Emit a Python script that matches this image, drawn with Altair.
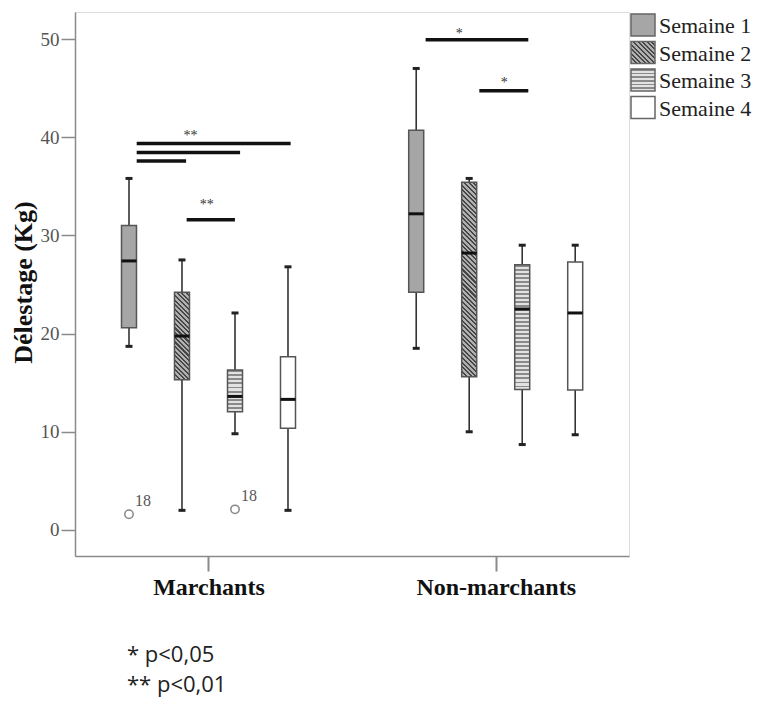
import altair as alt
import pandas as pd
import numpy as np

# ---------------- data ----------------
groups = ["Marchants", "Non-marchants"]
weeks = ["Semaine 1", "Semaine 2", "Semaine 3", "Semaine 4"]

whisker_low = [[18.7, 2.0, 9.8, 2.0], [18.5, 10.0, 8.7, 9.7]]
q1_vals = [[20.6, 15.3, 12.05, 10.35], [24.2, 15.6, 14.3, 14.25]]
median_vals = [[27.4, 19.75, 13.6, 13.3], [32.2, 28.2, 22.5, 22.1]]
q3_vals = [[31.0, 24.2, 16.3, 17.65], [40.7, 35.4, 27.0, 27.3]]
whisker_high = [[35.8, 27.5, 22.1, 26.8], [47.0, 35.8, 29.0, 29.0]]

outlier_group = ["Marchants", "Marchants"]
outlier_week = ["Semaine 1", "Semaine 3"]
outlier_value = [1.6, 2.1]
outlier_label = ["18", "18"]

# significance bars (x in category units: Marchants = 1, Non-marchants = 2)
sig_x1 = [0.750, 0.750, 0.750, 0.924, 1.756, 1.943]
sig_x2 = [1.286, 1.110, 0.922, 1.092, 2.1135, 2.1135]
sig_y = [39.36, 38.44, 37.57, 31.59, 49.92, 44.73]
star_text = ["**", "**", "*", "*"]
star_x = [0.937, 0.994, 1.873, 2.030]
star_y = [40.1, 33.1, 50.5, 45.5]

footnotes = ["* p<0,05", "** p<0,01"]

y_ticks = [0, 10, 20, 30, 40, 50]

# ---------------- layout / style ----------------
W, H = 554, 544
Y_DOMAIN = [-2.65, 52.75]
X_DOMAIN = [0.5352, 2.4641]
PX_PER_X = W / (X_DOMAIN[1] - X_DOMAIN[0])
PX_PER_Y = H / (Y_DOMAIN[1] - Y_DOMAIN[0])
week_offset = [-0.2768, -0.0923, 0.0923, 0.2768]
box_w = 15.0
half_box = box_w / 2 / PX_PER_X
half_cap = 3.5 / PX_PER_X

S1_FILL = "#a6a6a6"
S2_BG, S2_FG = "#b0b0b0", "#474747"
S3_BG, S3_FG = "#e2e2e2", "#8a8a8a"
S4_FILL = "#ffffff"
BOX_STROKE = "#555555"
SERIF = "Liberation Serif"

xs = alt.Scale(domain=X_DOMAIN, nice=False, zero=False)
ys = alt.Scale(domain=Y_DOMAIN, nice=False, zero=False)

x_axis = alt.Axis(values=[1, 2], labelExpr="datum.value == 1 ? 'Marchants' : 'Non-marchants'",
                  title=None, grid=False, tickSize=15, domainColor="#8a8a8a", tickColor="#8a8a8a",
                  domainWidth=1.5, tickWidth=2, labelFont=SERIF, labelFontSize=24,
                  labelFontWeight="bold", labelColor="#111111", labelPadding=4)
y_axis = alt.Axis(values=y_ticks, title="Délestage (Kg)", grid=False, tickSize=14,
                  domainColor="#8a8a8a", tickColor="#8a8a8a", domainWidth=1.5, tickWidth=1.5,
                  labelFont=SERIF, labelFontSize=19, labelColor="#555555", labelPadding=2,
                  titleFont=SERIF, titleFontSize=26, titleFontWeight="bold", titleColor="#111111",
                  titlePadding=4, titleY=270)


def X(field):
    return alt.X(field, type="quantitative", scale=xs, axis=x_axis)


def Y(field):
    return alt.Y(field, type="quantitative", scale=ys, axis=y_axis)


rows = []
for gi, g in enumerate(groups):
    for wi, wk in enumerate(weeks):
        pos = gi + 1 + week_offset[wi]
        rows.append(dict(group=g, week=wk, pos=pos,
                         lo=whisker_low[gi][wi], q1=q1_vals[gi][wi], med=median_vals[gi][wi],
                         q3=q3_vals[gi][wi], hi=whisker_high[gi][wi],
                         xl=pos - half_box, xr=pos + half_box,
                         cl=pos - half_cap, cr=pos + half_cap))
boxes = pd.DataFrame(rows)

out = pd.DataFrame(dict(group=outlier_group, week=outlier_week, value=outlier_value,
                        label=outlier_label))
out["pos"] = [groups.index(g) + 1 + week_offset[weeks.index(w)] for g, w in zip(out.group, out.week)]

sig = pd.DataFrame(dict(x1=sig_x1, x2=sig_x2, y=sig_y))
stars = pd.DataFrame(dict(x=star_x, y=star_y, t=star_text))


def stripe_stops(n, bg, fg, duty):
    stops = []
    for i in range(n):
        a = i / n
        b = (i + duty) / n
        c = (i + 1) / n
        stops += [{"offset": round(a, 5), "color": fg}, {"offset": round(b, 5), "color": fg},
                  {"offset": round(b, 5), "color": bg}, {"offset": round(min(c, 1.0), 5), "color": bg}]
    return stops


def diag_gradient(w, h, period=3.3):
    s = (1 / h + 1 / w) / (1 / h ** 2 + 1 / w ** 2)
    n = max(1, int(round((w + h) / (np.sqrt(2) * period))))
    return {"gradient": "linear", "x1": 0, "y1": 1, "x2": s / h, "y2": 1 - s / w,
            "stops": stripe_stops(n, S2_BG, S2_FG, 0.45)}


def horiz_gradient(h, period=4.0):
    n = max(1, int(round(h / period)))
    return {"gradient": "linear", "x1": 0, "y1": 0, "x2": 0, "y2": 1,
            "stops": stripe_stops(n, S3_BG, S3_FG, 0.45)}


base = alt.Chart(boxes)

whiskers = base.mark_rule(color="#333333", strokeWidth=1.6).encode(x=X("pos"), y=Y("lo"), y2="hi")
caps_lo = base.mark_rule(color="#222222", strokeWidth=3).encode(x=X("cl"), x2="cr", y=Y("lo"))
caps_hi = base.mark_rule(color="#222222", strokeWidth=3).encode(x=X("cl"), x2="cr", y=Y("hi"))

plain = base.transform_filter(alt.FieldOneOfPredicate(field="week", oneOf=["Semaine 1", "Semaine 4"])).mark_rect(
    stroke=BOX_STROKE, strokeWidth=1.5).encode(
    x=X("xl"), x2="xr", y=Y("q1"), y2="q3",
    fill=alt.Fill("week:N", scale=alt.Scale(domain=["Semaine 1", "Semaine 4"], range=[S1_FILL, S4_FILL]),
                  legend=None))

patterned = []
for _, r in boxes.iterrows():
    h = (r.q3 - r.q1) * PX_PER_Y
    if r.week == "Semaine 2":
        grad = diag_gradient(box_w, h)
    elif r.week == "Semaine 3":
        grad = horiz_gradient(h)
    else:
        continue
    one = boxes[(boxes.group == r.group) & (boxes.week == r.week)]
    patterned.append(alt.Chart(one).mark_rect(fill=grad, stroke=BOX_STROKE, strokeWidth=1.5).encode(
        x=X("xl"), x2="xr", y=Y("q1"), y2="q3"))

medians = base.mark_rule(color="#111111", strokeWidth=3).encode(x=X("xl"), x2="xr", y=Y("med"))

outliers = alt.Chart(out).mark_point(shape="circle", filled=False, size=70, stroke="#555555",
                                     strokeWidth=1.5).encode(x=X("pos"), y=Y("value"))
outlier_txt = alt.Chart(out).mark_text(align="left", baseline="alphabetic", dx=6, dy=-8, font=SERIF,
                                       fontSize=16, color="#555555").encode(
    x=X("pos"), y=Y("value"), text="label:N")

sig_lines = alt.Chart(sig).mark_rule(color="#111111", strokeWidth=3.5).encode(x=X("x1"), x2="x2", y=Y("y"))
sig_stars = alt.Chart(stars).mark_text(font=SERIF, fontSize=14, color="#333333", baseline="middle").encode(
    x=X("x"), y=Y("y"), text="t:N")

# ---------------- hand-drawn legend (pixel layout, relative to plot origin) ----------------
leg = pd.DataFrame(dict(week=weeks))
leg["x0"] = 556
leg["x1"] = 580
leg["y0"] = [2 + i * 27.5 for i in range(4)]
leg["y1"] = leg["y0"] + 22
leg["ty"] = leg["y0"] + 12
leg["tx"] = 584

leg_layers = []
for i, wk in enumerate(weeks):
    one = leg[leg.week == wk]
    if wk == "Semaine 2":
        fill = diag_gradient(24, 22)
    elif wk == "Semaine 3":
        fill = horiz_gradient(22)
    elif wk == "Semaine 1":
        fill = S1_FILL
    else:
        fill = S4_FILL
    leg_layers.append(alt.Chart(one).mark_rect(fill=fill, stroke="#666666", strokeWidth=1.5).encode(
        x=alt.X("x0:Q", scale=None), x2="x1", y=alt.Y("y0:Q", scale=None), y2="y1"))
leg_text = alt.Chart(leg).mark_text(align="left", baseline="middle", font=SERIF, fontSize=22,
                                    color="#222222").encode(
    x=alt.X("tx:Q", scale=None), y=alt.Y("ty:Q", scale=None), text="week:N")

foot = pd.DataFrame(dict(t=footnotes, fx=[52, 52], fy=[650, 680]))
foot_text = alt.Chart(foot).mark_text(align="left", baseline="alphabetic", font="Open Sans", fontSize=22,
                                      color="#222222").encode(
    x=alt.X("fx:Q", scale=None), y=alt.Y("fy:Q", scale=None), text="t:N")

chart = alt.layer(whiskers, caps_lo, caps_hi, plain, *patterned, medians, outliers, outlier_txt,
                  sig_lines, sig_stars, *leg_layers, leg_text, foot_text).properties(
    width=W, height=H,
    autosize=alt.AutoSizeParams(type="none"),
    padding={"left": 67, "top": 4, "right": 127, "bottom": 144},
).configure_view(stroke=None).configure(background="white")

chart.save("out.html", embed_options={"renderer": "svg", "actions": False})
